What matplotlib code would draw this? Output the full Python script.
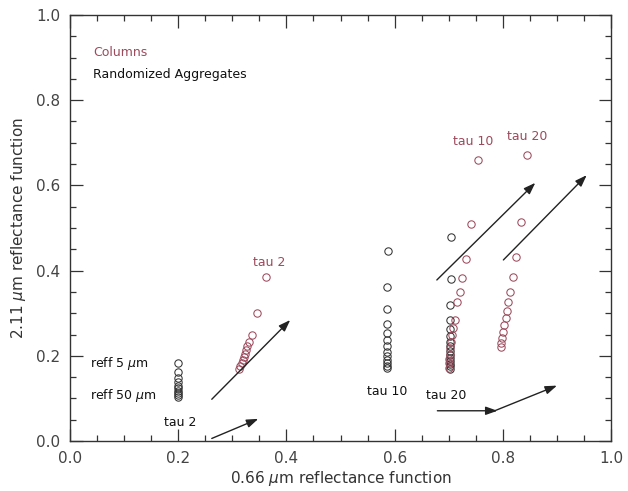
import matplotlib
matplotlib.use("Agg")
import matplotlib.pyplot as plt
from matplotlib.ticker import MultipleLocator, FormatStrFormatter

# Randomized aggregates (black)
agg_tau2_x = [0.200, 0.200, 0.200, 0.200, 0.200, 0.200, 0.200, 0.200, 0.200, 0.200]
agg_tau2_y = [0.182, 0.162, 0.148, 0.138, 0.130, 0.124, 0.118, 0.113, 0.108, 0.104]
agg_tau10_x = [0.587, 0.586, 0.586, 0.585, 0.585, 0.585, 0.585, 0.585, 0.585, 0.585, 0.585, 0.585, 0.585]
agg_tau10_y = [0.445, 0.362, 0.310, 0.275, 0.253, 0.237, 0.222, 0.210, 0.199, 0.190, 0.182, 0.176, 0.171]
agg_tau20_x = [0.705, 0.704, 0.703, 0.703, 0.703, 0.703, 0.703, 0.703, 0.703, 0.703, 0.703, 0.703, 0.703, 0.703, 0.703]
agg_tau20_y = [0.478, 0.380, 0.320, 0.284, 0.262, 0.246, 0.233, 0.222, 0.212, 0.203, 0.195, 0.188, 0.181, 0.175, 0.170]

# Columns (red)
col_tau2_x = [0.313, 0.315, 0.317, 0.319, 0.321, 0.323, 0.325, 0.328, 0.331, 0.336, 0.345, 0.362]
col_tau2_y = [0.168, 0.175, 0.182, 0.190, 0.197, 0.205, 0.213, 0.222, 0.233, 0.250, 0.300, 0.385]
col_tau10_x = [0.700, 0.700, 0.701, 0.702, 0.703, 0.704, 0.706, 0.708, 0.711, 0.715, 0.720, 0.724, 0.731, 0.741, 0.755]
col_tau10_y = [0.172, 0.182, 0.193, 0.205, 0.218, 0.232, 0.248, 0.266, 0.285, 0.326, 0.350, 0.382, 0.428, 0.510, 0.660]
col_tau20_x = [0.797, 0.797, 0.798, 0.800, 0.802, 0.805, 0.807, 0.810, 0.814, 0.818, 0.824, 0.833, 0.845]
col_tau20_y = [0.221, 0.230, 0.242, 0.256, 0.272, 0.288, 0.306, 0.327, 0.350, 0.384, 0.431, 0.515, 0.672]

# arrows: (start, end)
arrows = [
    ((0.262, 0.098), (0.407, 0.284)),
    ((0.262, 0.006), (0.348, 0.052)),
    ((0.678, 0.378), (0.860, 0.606)),
    ((0.801, 0.425), (0.955, 0.624)),
    ((0.679, 0.071), (0.790, 0.071)),
    ((0.785, 0.071), (0.900, 0.130)),
]

red = '#9c4a5c'

fig = plt.figure(figsize=(6.28, 4.91), dpi=100)
ax = fig.add_axes([0.1115, 0.1018, 0.8615, 0.8677])

mk = dict(marker='o', linestyle='none', markersize=5.3, markerfacecolor='none', markeredgewidth=0.75)
for xs, ys in [(agg_tau2_x, agg_tau2_y), (agg_tau10_x, agg_tau10_y), (agg_tau20_x, agg_tau20_y)]:
    ax.plot(xs, ys, markeredgecolor='#333333', **mk)
for xs, ys in [(col_tau2_x, col_tau2_y), (col_tau10_x, col_tau10_y), (col_tau20_x, col_tau20_y)]:
    ax.plot(xs, ys, markeredgecolor=red, **mk)

for (x0, y0), (x1, y1) in arrows:
    ax.annotate('', xy=(x1, y1), xytext=(x0, y0),
                arrowprops=dict(arrowstyle='-|>,head_length=0.7,head_width=0.25',
                                color='#222222', lw=1.0, shrinkA=0, shrinkB=0))

fs = 9
ax.text(0.043, 0.911, 'Columns', color=red, fontsize=fs, va='center')
ax.text(0.043, 0.861, 'Randomized Aggregates', color='#111111', fontsize=fs, va='center')
ax.text(0.037, 0.181, r'reff 5 $\mu$m', color='#111111', fontsize=fs, va='center')
ax.text(0.037, 0.106, r'reff 50 $\mu$m', color='#111111', fontsize=fs, va='center')
ax.text(0.174, 0.044, 'tau 2', color='#111111', fontsize=fs, va='center')
ax.text(0.548, 0.117, 'tau 10', color='#111111', fontsize=fs, va='center')
ax.text(0.658, 0.107, 'tau 20', color='#111111', fontsize=fs, va='center')
ax.text(0.338, 0.418, 'tau 2', color=red, fontsize=fs, va='center')
ax.text(0.708, 0.703, 'tau 10', color=red, fontsize=fs, va='center')
ax.text(0.807, 0.714, 'tau 20', color=red, fontsize=fs, va='center')

ax.set_xlim(0, 1)
ax.set_ylim(0, 1)
ax.xaxis.set_major_locator(MultipleLocator(0.2))
ax.yaxis.set_major_locator(MultipleLocator(0.2))
ax.xaxis.set_minor_locator(MultipleLocator(0.05))
ax.yaxis.set_minor_locator(MultipleLocator(0.05))
ax.xaxis.set_major_formatter(FormatStrFormatter('%.1f'))
ax.yaxis.set_major_formatter(FormatStrFormatter('%.1f'))
ax.tick_params(which='both', direction='in', top=True, right=True, colors='#333333',
               labelcolor='#444444', labelsize=11, width=0.9)
ax.tick_params(which='major', length=9, pad=7)
ax.tick_params(which='minor', length=4)
for s in ax.spines.values():
    s.set_color('#333333')
    s.set_linewidth(1.0)

ax.set_xlabel(r'0.66 $\mu$m reflectance function', fontsize=11, color='#333333', labelpad=2)
ax.set_ylabel(r'2.11 $\mu$m reflectance function', fontsize=11, color='#333333', labelpad=6)

fig.savefig('out.png', dpi=100)
